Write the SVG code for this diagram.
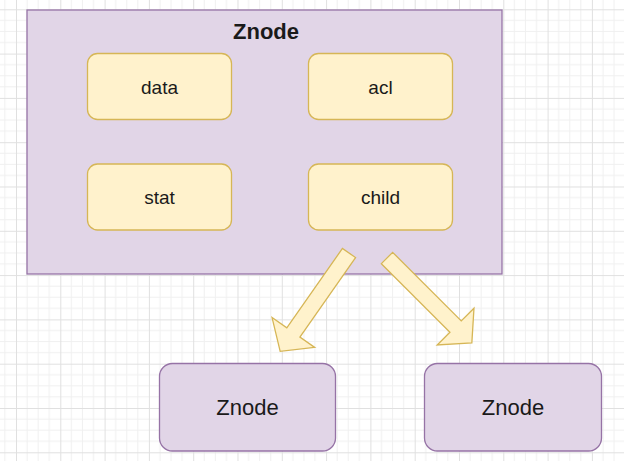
<svg xmlns="http://www.w3.org/2000/svg" width="624" height="461" viewBox="0 0 624 461">
  <style>
    .lbl { font-family: "Liberation Sans", Arial, sans-serif; fill: #1a1a1a; text-anchor: middle; }
    .inner { fill: #fff2cc; stroke: #d6b656; stroke-width: 1.3; }
    .purple { fill: #e1d5e7; stroke: #9673a6; stroke-width: 1.3; }
    .arrow { fill: #fff2cc; stroke: #d6b656; stroke-width: 1.3; stroke-linejoin: miter; }
  </style>
  <defs>
    <pattern id="grid" patternUnits="userSpaceOnUse" x="16" y="9.3" width="44.3" height="44.3">
      <path d="M11.075 0V44.3M22.15 0V44.3M33.225 0V44.3M0 11.075H44.3M0 22.15H44.3M0 33.225H44.3" stroke="#f0f0f0" stroke-width="1" fill="none"/>
      <path d="M0.5 0V44.3M0 0.5H44.3" stroke="#e0e0e0" stroke-width="1" fill="none"/>
    </pattern>
    <path id="flex" d="M0,-8 L97,-8 L97,-26 L120,0 L97,26 L97,8 L0,8 Z"/>
  </defs>
  <rect width="624" height="461" fill="#ffffff"/>
  <rect width="624" height="461" fill="url(#grid)"/>

  <g id="container">
    <rect class="purple" x="27" y="10" width="475" height="264"/>
    <text class="lbl" x="266" y="39" font-size="22" font-weight="bold">Znode</text>
  </g>
  <g id="data">
    <rect class="inner" x="87.5" y="53.5" width="144" height="66" rx="10"/>
    <text class="lbl" x="159.5" y="93.5" font-size="19">data</text>
  </g>
  <g id="acl">
    <rect class="inner" x="308.5" y="53.5" width="144" height="66" rx="10"/>
    <text class="lbl" x="380.5" y="93.5" font-size="19">acl</text>
  </g>
  <g id="stat">
    <rect class="inner" x="87.5" y="164" width="144" height="66" rx="10"/>
    <text class="lbl" x="159.5" y="204" font-size="19">stat</text>
  </g>
  <g id="child">
    <rect class="inner" x="308.5" y="164" width="144" height="66" rx="10"/>
    <text class="lbl" x="380.5" y="204" font-size="19">child</text>
  </g>

  <g id="connectors">
    <use href="#flex" class="arrow" transform="translate(349,253) rotate(125)"/>
    <use href="#flex" class="arrow" transform="translate(387,258) rotate(45)"/>
  </g>

  <g id="znode-left">
    <rect class="purple" x="159.5" y="363.5" width="176" height="87.5" rx="13"/>
    <text class="lbl" x="247.5" y="415" font-size="22">Znode</text>
  </g>
  <g id="znode-right">
    <rect class="purple" x="424.5" y="363.5" width="177" height="87.5" rx="13"/>
    <text class="lbl" x="513" y="415" font-size="22">Znode</text>
  </g>
</svg>
